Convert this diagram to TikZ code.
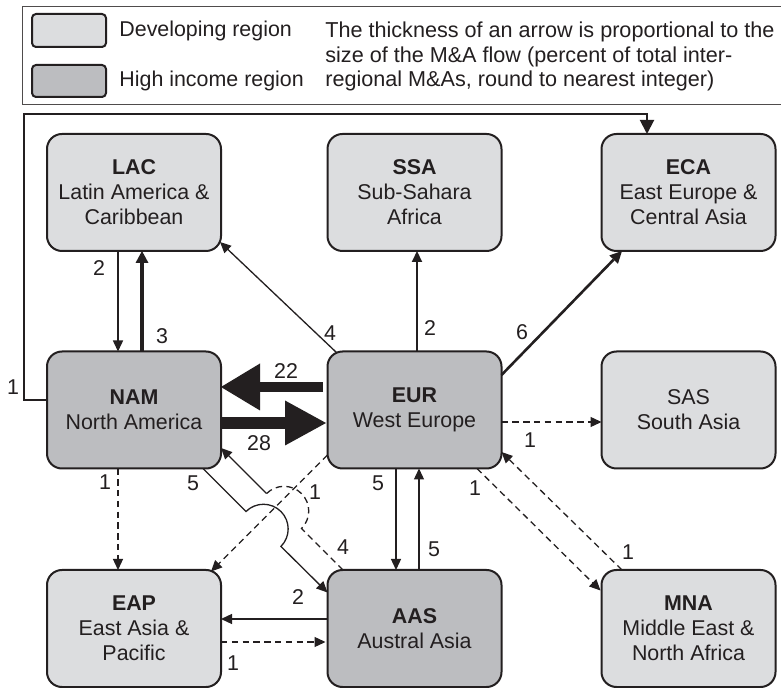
\documentclass[tikz,border=0pt]{standalone}
\usepackage{fontspec}
\setmainfont{Liberation Sans}
\usetikzlibrary{arrows.meta,calc}
\definecolor{ink}{HTML}{231F20}
\definecolor{devfill}{HTML}{DCDDDF}
\definecolor{hifill}{HTML}{BCBDC0}
\begin{document}
\begin{tikzpicture}[x=0.5pt,y=-0.5pt,
  every node/.style={font=\fontsize{10.7}{12.5}\selectfont, text=ink},
  region/.style={draw=ink, line width=1pt, rounded corners=7.5pt, minimum width=87pt, minimum height=58.5pt, align=center, inner sep=0pt},
  dev/.style={region, fill=devfill},
  hi/.style={region, fill=hifill},
  swatch/.style={draw=ink, line width=1pt, rounded corners=2pt},
  flow/.style={draw=ink, line width=0.65pt, -{Triangle[length=5.5pt,width=5pt]}},
  weak/.style={flow, dash pattern=on 3.2pt off 2.2pt},
  lbl/.style={inner sep=0pt}
]
\useasboundingbox (0,0) rectangle (781,688);
\fill[white] (0,0) rectangle (781,688);

% legend
\draw[ink!80, line width=0.5pt] (782,7) -- (22,7) -- (22,105) -- (782,105);
\draw[swatch, fill=devfill] (32,14) rectangle (106,47);
\draw[swatch, fill=hifill] (32,65) rectangle (106,97);
\node[lbl, anchor=west] (legdev) at (119,31) {Developing region};
\node[lbl, anchor=west] (leghi) at (119,81) {High income region};
\node[lbl, anchor=west, align=left, font=\fontsize{10.8}{12.3}\selectfont] (legtxt) at (325,56.5)
  {The thickness of an arrow is proportional to the\\size of the M\&A flow (percent of total inter-\\regional M\&As, round to nearest integer)};

% regions
\node[dev] (LAC) at (134,192.5) {\textbf{LAC}\\Latin America \&\\Caribbean};
\node[dev] (SSA) at (414.5,192.5) {\textbf{SSA}\\Sub-Sahara\\Africa};
\node[dev] (ECA) at (688.5,192.5) {\textbf{ECA}\\East Europe \&\\Central Asia};
\node[hi] (NAM) at (134,410) {\textbf{NAM}\\North America};
\node[hi] (EUR) at (414.5,410) {\textbf{EUR}\\West Europe};
\node[dev] (SAS) at (688.5,410) {SAS\\South Asia};
\node[dev] (EAP) at (134,628.5) {\textbf{EAP}\\East Asia \&\\Pacific};
\node[hi] (AAS) at (414.5,628.5) {\textbf{AAS}\\Austral Asia};
\node[dev] (MNA) at (688.5,628.5) {\textbf{MNA}\\Middle East \&\\North Africa};

% loop NAM -> ECA
\draw[ink, line width=1pt, -{Triangle[length=7pt,width=7pt]}]
  ($(NAM)+(-87,-10)$) -- ++(-23,0) |- ($(ECA)+(-41.5,-78.5)$) -- ($(ECA)+(-41.5,-58.5)$);
\node[lbl] (l19) at (13,387) {1};

% LAC <-> NAM
\draw[flow, line width=0.75pt] ($(LAC)+(-16,58.5)$) -- ($(NAM)+(-16,-58.5)$);
\node[lbl] (l1) at (99,268) {2};
\draw[ink, line width=2pt, -{Triangle[length=6pt,width=6.5pt,line width=0pt]}] ($(NAM)+(8,-58.5)$) -- ($(LAC)+(8,58.5)$);
\node[lbl] (l2) at (162,336) {3};

% EUR -> LAC, SSA, ECA
\draw[flow] ($(EUR)+(-77.5,-57)$) -- ($(LAC)+(86,49.5)$);
\node[lbl] (l3) at (330,333) {4};
\draw[flow, line width=1pt] ($(EUR)+(2.5,-58.5)$) -- ($(SSA)+(2.5,58.5)$);
\node[lbl] (l4) at (430,328) {2};
\draw[ink, line width=1.3pt, -{Triangle[length=6pt,width=6pt,line width=0pt]}] ($(EUR)+(87,-35)$) -- ($(ECA)+(-66.5,58.5)$);
\node[lbl] (l5) at (522,332) {6};

% NAM <-> EUR
\draw[ink, line width=5pt, -{Triangle[length=19.5pt,width=23.5pt,line width=0pt]}] ($(EUR)+(-91.5,-23)$) -- ($(NAM)+(87,-23)$);
\node[lbl] (l6) at (286,371) {22};
\draw[ink, line width=5.75pt, -{Triangle[length=20.5pt,width=22.5pt,line width=0pt]}] ($(NAM)+(87,13)$) -- ($(EUR)+(-88.5,13)$);
\node[lbl] (l7) at (259,443) {28};

% EUR -> SAS, MNA
\draw[weak] ($(EUR)+(87,12)$) -- ($(SAS)+(-87,12)$);
\node[lbl] (l8) at (530,440) {1};
\draw[weak] ($(MNA)+(-66.5,-58.5)$) -- ($(EUR)+(87,42)$);
\node[lbl] (l9) at (628,552) {1};
\draw[weak] ($(EUR)+(62.5,58.5)$) -- ($(MNA)+(-88,-38)$);
\node[lbl] (l10) at (475,488) {1};

% EUR <-> AAS
\draw[flow] ($(EUR)+(-18.5,58.5)$) -- ($(AAS)+(-18.5,-58.5)$);
\node[lbl] (l11) at (378,483) {5};
\draw[flow] ($(AAS)+(4.5,-58.5)$) -- ($(EUR)+(4.5,58.5)$);
\node[lbl] (l12) at (434,549) {5};

% EUR -> EAP
\draw[weak] ($(EUR)+(-87,45)$) -- ($(EAP)+(77,-57)$);
\node[lbl] (l13) at (315,492) {1};

% NAM -> AAS with hop
\coordinate (h1a) at (246,511.5);
\coordinate (h1b) at (281,546.5);
\draw[flow] ($(NAM)+(69,58.5)$) -- (h1a) arc[start angle=135, end angle=-45, radius=12.35pt] -- ($(AAS)+(-87,-36)$);
\node[lbl] (l14) at (193,483) {5};

% AAS -> NAM with hop
\coordinate (h2a) at (266.5,493.5);
\coordinate (h2b) at (301.5,528.5);
\draw[ink, line width=0.65pt, dash pattern=on 3.2pt off 2.2pt] ($(AAS)+(-71.5,-58.5)$) -- (h2b) arc[start angle=-45, end angle=135, radius=12.35pt];
\draw[flow] (h2a) -- ($(NAM)+(87,38)$);
\node[lbl] (l15) at (343,547) {4};

% NAM -> EAP
\draw[weak] ($(NAM)+(-16,58.5)$) -- ($(EAP)+(-16,-58.5)$);
\node[lbl] (l16) at (105,482) {1};

% AAS <-> EAP
\draw[flow] ($(AAS)+(-87,-9.5)$) -- ($(EAP)+(87,-9.5)$);
\node[lbl] (l17) at (298,597) {2};
\draw[weak] ($(EAP)+(87,13.5)$) -- ($(AAS)+(-89,13.5)$);
\node[lbl] (l18) at (233,663) {1};
\end{tikzpicture}
\end{document}
